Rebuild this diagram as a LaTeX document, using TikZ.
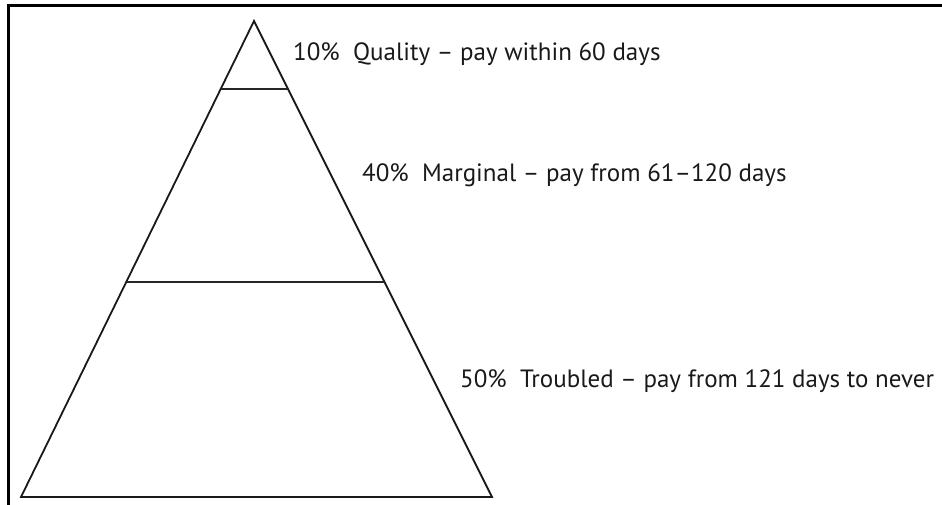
\documentclass[tikz,border=0pt]{standalone}
\usepackage{fontspec}
\setmainfont{PT Sans}
\begin{document}
\begin{tikzpicture}[x=1pt,y=-1pt,
  frameline/.style={line width=3pt,black},
  tri/.style={line width=1.8pt,black!90,line join=miter},
  band/.style={line width=1.8pt,black!85},
  lbl/.style={anchor=base west,inner sep=0pt,text=black!90,font=\fontsize{25}{30}\selectfont}]
\useasboundingbox (0,0) rectangle (942,504);
\draw[frameline] (8,506) -- (8,5.5) -- (944,5.5);
\coordinate (apex) at (254,21);
\coordinate (bl) at (21,497);
\coordinate (br) at (492,497);
\draw[tri] (apex) -- (br) -- (bl) -- cycle;
\coordinate (l1) at (221,89);
\coordinate (r1) at (288,89);
\coordinate (l2) at (126,282);
\coordinate (r2) at (384,282);
\draw[band] (l1) -- (r1);
\draw[band] (l2) -- (r2);
\node[lbl] (q) at (293,60) {10\%\ \ Quality – pay within 60 days};
\node[lbl] (m) at (362,181) {40\%\ \ Marginal – pay from 61–120 days};
\node[lbl] (t) at (460,387) {50\%\ \ Troubled – pay from 121 days to never};
\end{tikzpicture}
\end{document}
